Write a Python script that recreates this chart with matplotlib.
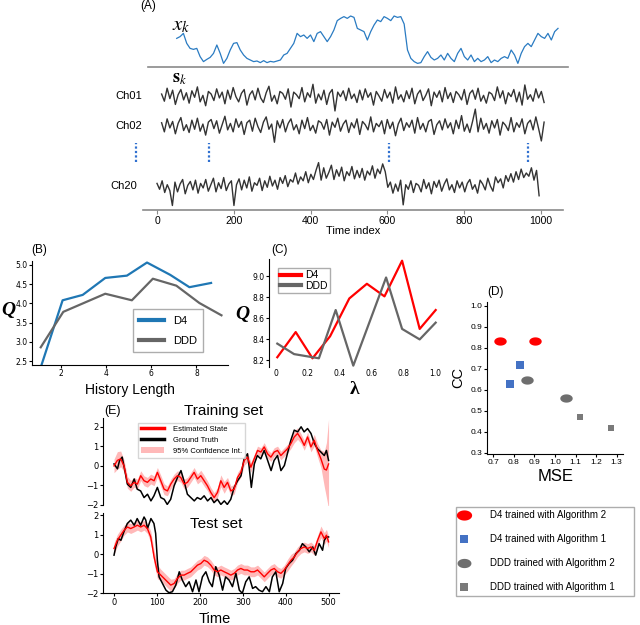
import numpy as np
import matplotlib
matplotlib.use("Agg")
from matplotlib import pyplot as plt
from matplotlib.path import Path
from matplotlib.lines import Line2D
from matplotlib.patches import Patch

plt.rcParams["font.family"] = ["Liberation Sans", "DejaVu Sans"]
plt.rcParams["mathtext.fontset"] = "stix"

# ---- (A) latent state and a few channels ----
xk = [0.13, 0.27, 0.53, -0.27, -0.67, -0.75, -0.67, -1.33, -1.73, -1.55, -1.39, -1.07, -0.4, -1.07, -1.87,
      -1.47, -0.8, -0.27, -0.21, -0.8, -1.2, -1.47, -1.6, -1.73, -1.68, -1.81, -1.65, -1.81, -1.71, -1.76,
      -1.68, -1.6, -1.2, -1.07, -0.67, -0.27, 0.53, 0.27, 0.4, 0.13, 0.4, -0.13, 0.53, 0.67, 0.27,
      -0.13, 0.27, 0.8, 1.55, 1.73, 1.87, 1.73, 1.92, 1.81, 0.93, 0.8, 0.67, 0.0, 0.67, 1.2,
      1.6, 1.47, 1.87, 1.73, 1.55, 1.92, 1.81, 1.87, 1.28, -0.8, -1.47, -1.73, -1.87, -1.81, -1.33,
      -0.93, -1.39, -1.6, -1.47, -1.2, -1.6, -1.07, -1.47, -1.73, -1.07, -0.67, -1.33, -1.6, -1.2, -1.73,
      -1.47, -1.73, -1.6, -1.33, -1.81, -1.6, -1.73, -1.47, -1.33, -1.47, -0.8, -1.2, -1.87, -1.07, -0.53,
      -0.27, -0.53, 0.0, 0.53, 0.27, 0.13, 0.53, 0.0, 0.67, 0.93]

ch01 = [0.3, -0.8, 1.2, -0.4, 0.9, -1.3, 0.2, 1.0, -0.6, 0.5, -1.1, 0.8, -0.2, 1.4, -0.9, 0.1, -1.5, 0.7, 0.3, -0.7,
        1.1, -0.3, 0.6, -1.2, 0.9, -0.5, 1.3, -0.1, -0.9, 0.4, 1.0, -1.4, 0.2, 0.8, -0.6, 1.2, -0.3, -1.0, 0.5, 1.5,
        -0.8, 0.1, -1.2, 0.7, 0.4, -0.5, 1.1, -1.7, 0.6, 0.2, -0.4, 1.3, -0.9, 0.5, -0.2, 1.8, -1.1, 0.3, -0.6, 0.9,
        -1.3, 0.4, 1.0, -2.3, 0.6, -0.1, 0.8, -0.7, 1.2, -0.4, 0.3, -1.0, 0.9, -0.6, 1.1, -0.2, 0.5, -1.4, 0.7, 0.0,
        -0.8, 1.0, -0.3, 0.6, -1.1, 1.4, -0.5, 0.2, -0.9, 0.8, -0.4, 1.2, -1.2, 0.3, 0.9, -0.7, 0.1, 1.1, -1.5, 0.6,
        -0.2, 0.8, -0.9, 1.3, -0.4, 0.5, -1.0, 0.7, 0.2, -0.6, 1.0, -1.3, 0.4, 0.9, -0.5, 1.2, -0.8, 0.1, -1.1, 0.6,
        0.3, -0.7, 1.4, -0.3, 0.8, -1.2, 0.5, -0.1, 1.0, -0.9, 0.6, -1.4, 1.7, -0.5, 0.2, -0.8, 1.1, -0.3, 0.7, -1.0]
ch02 = [0.5, -0.9, 1.1, -0.3, 0.7, -1.2, 0.4, 1.3, -0.7, 0.2, -1.0, 0.9, -0.5, 1.2, -0.8, 0.3, -1.4, 0.6, 1.0, -0.4,
        0.8, -1.1, 0.2, 1.5, -0.6, 0.4, -0.9, 1.1, -0.2, 0.7, -1.3, 0.5, 0.9, -0.8, 1.2, -0.1, -1.0, 0.6, 1.4, -0.5,
        0.3, -2.5, 0.8, -0.3, 1.0, -0.9, 0.4, 1.1, -0.6, 0.2, -1.2, 0.9, -0.4, 1.3, -0.7, 0.1, -1.1, 0.8, 0.5, -0.5,
        1.0, -1.4, 0.6, -0.2, 1.2, -0.8, 0.3, 0.9, -1.0, 0.5, -0.3, 1.1, -1.3, 0.7, 0.2, -0.6, 1.4, -0.9, 0.4, -0.1,
        0.8, -1.2, 1.0, -0.4, 0.6, -1.5, 0.3, 1.2, -0.7, 0.5, -0.2, 0.9, -1.1, 1.3, -0.5, 0.4, -0.9, 0.7, 1.0, -1.3,
        0.2, 0.8, -0.6, 1.1, -0.3, 0.5, -1.2, 0.9, -0.4, 1.6, -0.8, 0.3, -1.0, 0.7, 2.6, -0.9, 1.2, -0.5, 0.4, -1.1,
        0.8, -0.3, 1.0, -1.4, 0.6, 0.1, -0.7, 1.3, -0.9, 0.5, -0.2, 1.1, -1.2, 0.4, 0.9, -0.6, 1.4, -0.4, -2.3, 0.6]
ch20 = [0.4, -0.5, 0.8, -1.0, 0.2, -0.7, -3.0, 0.6, -0.9, 0.3, 1.0, -1.2, 0.1, 0.7, -0.6, 0.9, -1.1, 0.4, -0.3, 1.0,
        -0.8, 0.2, 1.2, -0.9, 0.5, -0.4, 1.3, -0.7, 0.3, 0.8, -3.0, 0.2, 1.1, -0.6, 0.9, -0.3, 1.4, -0.8, 0.5, 0.1,
        1.2, -0.7, 0.8, -0.2, 1.5, 0.0, 0.9, -0.5, 1.3, 0.4, 1.6, -0.1, 1.0, 0.6, 2.0, 0.3, 1.4, 0.8, 2.2, 0.5,
        1.8, 1.0, 2.4, 3.6, 0.9, 2.8, 1.2, 2.1, 3.2, 1.0, 2.5, 1.5, 2.9, 0.8, 2.2, 1.6, 3.0, 1.1, 2.4, 1.3,
        2.7, 0.9, 2.3, 1.7, 3.1, 1.2, 2.6, 1.9, 3.4, 2.2, -0.2, 0.6, -1.1, 0.3, -0.8, 0.9, -2.9, 0.2, -0.5, 0.8,
        -1.0, 0.4, 0.1, -0.9, 1.0, -0.4, 0.5, -1.2, 0.7, -0.2, 0.9, -0.8, 0.3, 1.1, -0.6, 0.2, -1.0, 0.8, -0.3, 0.6,
        -0.9, 0.4, 1.0, -0.5, 0.2, -1.1, 0.9, 0.3, -0.6, 1.2, 0.0, -0.8, 1.4, 0.5, 1.1, -0.3, 1.6, 0.7, 1.9, 0.6,
        2.2, 1.0, 2.6, 1.3, 2.0, 1.5, 2.8, 0.9, 2.4, -1.5]

# ---- (B) history length ----
hist_d4 = [1.14, 2.07, 2.96, 3.96, 4.92, 5.81, 6.84, 7.69, 8.65]
q_hist_d4 = [2.41, 4.08, 4.22, 4.66, 4.72, 5.06, 4.74, 4.42, 4.53]
hist_ddd = [1.10, 2.10, 3.96, 5.14, 6.07, 7.11, 8.13, 9.11]
q_hist_ddd = [2.86, 3.78, 4.25, 4.08, 4.64, 4.46, 4.01, 3.69]

# ---- (C) lambda ----
lam_d4 = [0.01, 0.125, 0.23, 0.34, 0.46, 0.57, 0.68, 0.79, 0.90, 1.0]
q_lam_d4 = [8.23, 8.47, 8.22, 8.43, 8.79, 8.93, 8.81, 9.15, 8.50, 8.68]
lam_ddd = [0.01, 0.115, 0.27, 0.375, 0.485, 0.69, 0.79, 0.90, 1.0]
q_lam_ddd = [8.36, 8.26, 8.22, 8.68, 8.15, 8.99, 8.50, 8.40, 8.56]

# ---- (D) MSE vs CC ----
mse_d4_alg2 = [0.732, 0.903]
cc_d4_alg2 = [0.835, 0.835]
mse_d4_alg1 = [0.830, 0.781]
cc_d4_alg1 = [0.72, 0.63]
mse_ddd_alg2 = [0.862, 1.053]
cc_ddd_alg2 = [0.649, 0.56]
mse_ddd_alg1 = [1.12, 1.27]
cc_ddd_alg1 = [0.47, 0.416]
d_labels = ["D4 trained with Algorithm 2", "D4 trained with Algorithm 1",
            "DDD trained with Algorithm 2", "DDD trained with Algorithm 1"]

# ---- (E) decoding ----
train_truth_t = [0, 8, 13, 19, 26, 31, 39, 47, 54, 62, 70, 78, 86, 93, 101, 109, 117, 124, 132, 140,
                 148, 156, 163, 171, 179, 187, 194, 202, 210, 218, 226, 233, 241, 249, 257, 264, 272, 280, 288, 296,
                 303, 311, 315, 320, 327, 334, 342, 350, 358, 366, 373, 381, 389, 397, 404, 412, 420, 428, 436, 443,
                 451, 459, 467, 474, 482, 490, 495, 500]
train_truth = [0.1, -0.15, 0.28, 0.45, -0.33, -0.93, -1.1, -0.67, -1.19, -1.28, -1.62, -1.45, -1.79, -1.53, -1.1, -1.62,
               -1.71, -1.97, -1.71, -1.02, -0.59, -0.24, -0.76, -1.45, -1.62, -1.79, -1.62, -1.71, -1.53, -1.79, -1.62,
               -1.88, -1.71, -1.97, -1.79, -1.97, -1.71, -1.1, -0.76, -0.5, 0.36, 0.62, -0.07, -1.1, 0.1, 0.53, 0.36,
               0.79, 0.28, -0.24, 0.28, 0.53, -0.24, 0.02, 0.62, 1.31, 1.83, 1.74, 2.0, 1.74, 1.91, 1.66, 1.14, 0.88,
               0.71, 0.53, 0.79, 0.28]
train_est = [0.0, 0.28, 0.36, 0.0, -0.84, -1.02, -0.84, -0.93, -0.5, -0.76, -0.84, -0.67, -0.76, -0.33, -0.76, -1.19,
             -1.28, -0.93, -0.67, -0.5, -0.59, -0.93, -0.84, -0.59, -0.33, -0.67, -0.5, -0.76, -1.02, -1.36, -1.62,
             -1.36, -0.76, -1.1, -0.84, -1.28, -1.19, -0.59, -0.33, 0.28, 0.45, -0.07, 0.36, 0.79, 0.71, 0.97, 0.62,
             0.45, 0.71, 0.79, 0.53, 0.71, 0.88, 1.14, 1.48, 1.66, 1.4, 1.05, 1.48, 0.97, 1.31, 0.79, 0.36, -0.16,
             -0.21, 0.1]
train_ci = [0.35, 0.45, 0.4, 0.3, 0.3, 0.28, 0.25, 0.25, 0.25, 0.25, 0.25, 0.25, 0.25, 0.25, 0.28, 0.28, 0.25,
            0.25, 0.25, 0.25, 0.25, 0.25, 0.25, 0.25, 0.25, 0.25, 0.28, 0.28, 0.25, 0.25, 0.25, 0.25, 0.3, 0.3,
            0.25, 0.25, 0.25, 0.25, 0.25, 0.25, 0.25, 0.25, 0.22, 0.22, 0.22, 0.22, 0.22, 0.22, 0.22, 0.22, 0.22,
            0.22, 0.22, 0.25, 0.3, 0.3, 0.25, 0.25, 0.25, 0.25, 0.3, 0.35, 0.45, 0.9, 1.4, 2.3]
test_truth_t = [0, 4, 10, 16, 23, 31, 39, 47, 54, 62, 70, 74, 78, 86, 93, 97, 101, 105, 113, 121,
                128, 136, 144, 152, 159, 167, 175, 183, 191, 198, 206, 214, 222, 229, 237, 245, 253, 260, 268, 276,
                284, 292, 299, 307, 315, 323, 330, 338, 346, 354, 362, 369, 377, 385, 393, 400, 408, 416, 424, 432,
                439, 447, 455, 463, 470, 478, 486, 490, 495, 500]
test_truth = [-0.05, 0.37, 0.8, 0.71, 1.14, 1.57, 1.74, 1.48, 1.82, 1.48, 1.9, 1.74, 1.31, 1.82, 1.57, 1.06, -0.31,
              -1.16, -1.5, -1.84, -1.97, -1.92, -1.58, -0.9, -1.32, -1.66, -1.41, -1.92, -1.32, -1.92, -1.16, -0.9,
              -1.41, -1.66, -0.64, -1.07, -1.84, -1.16, -1.32, -1.66, -0.98, -1.84, -2.0, -1.41, -1.16, -1.75, -1.66,
              -1.84, -1.92, -1.66, -1.92, -1.16, -0.9, -1.92, -1.5, -0.73, -0.48, -0.31, 0.03, 0.2, 0.54, 0.37, 0.12,
              0.37, -0.05, 0.54, 0.2, 0.71, 0.88, 0.88]
test_est = [0.29, 0.71, 0.97, 1.22, 1.39, 1.31, 1.39, 1.48, 1.39, 1.48, 1.31, 0.88, -0.14, -0.9, -1.07, -1.24, -1.41,
            -1.58, -1.5, -1.24, -1.07, -1.07, -0.98, -0.9, -0.73, -0.56, -0.48, -0.31, -0.39, -0.56, -0.81, -0.9,
            -0.81, -0.9, -0.98, -1.07, -0.98, -0.81, -0.73, -0.81, -0.81, -0.9, -0.9, -0.81, -0.98, -1.16, -0.98,
            -0.81, -0.73, -0.9, -0.98, -0.81, -0.56, -0.31, -0.14, 0.12, 0.29, 0.37, 0.29, 0.37, 0.2, 0.71, 1.14,
            0.8, 0.97, 0.63]
test_ci = [0.3, 0.3, 0.3, 0.25, 0.25, 0.25, 0.25, 0.25, 0.25, 0.25, 0.25, 0.3, 0.35, 0.35, 0.3, 0.3, 0.3, 0.3,
           0.25, 0.25, 0.25, 0.25, 0.25, 0.25, 0.25, 0.25, 0.25, 0.25, 0.25, 0.25, 0.25, 0.25, 0.25, 0.25, 0.25,
           0.25, 0.25, 0.25, 0.25, 0.25, 0.25, 0.25, 0.25, 0.25, 0.25, 0.25, 0.25, 0.25, 0.25, 0.25, 0.25, 0.25,
           0.3, 0.3, 0.25, 0.25, 0.25, 0.25, 0.25, 0.25, 0.25, 0.25, 0.3, 0.3, 0.3, 0.3]
est_t = np.append(np.linspace(0, 490, 64), [495, 500])

W, H = 640, 625
fig = plt.figure(figsize=(W / 100, H / 100), dpi=100)


def px_axes(x0, y0, x1, y1):
    # axes placed in pixel coords of the 640x625 canvas (y down)
    return fig.add_axes([x0 / W, 1 - y1 / H, (x1 - x0) / W, (y1 - y0) / H])


def ftext(x, y, s, **kw):
    fig.text(x / W, 1 - y / H, s, **kw)


def only_spines(ax, keep, color="black", lw=0.8):
    for name, sp in ax.spines.items():
        sp.set_visible(name in keep)
        sp.set_color(color)
        sp.set_linewidth(lw)


SERIF_BI = dict(family="Liberation Serif", fontweight="bold", fontstyle="italic")

# ---------------- (A) ----------------
ax_x = px_axes(148.3, 12, 568.3, 67)
ax_x.plot(np.linspace(0, 1000, len(xk)), xk, color="#2a7bc2", lw=0.9)
ax_x.set_xlim(-74.5, 1027)
ax_x.set_ylim(-2.16, 2.24)
ax_x.set_xticks([])
ax_x.set_yticks([])
only_spines(ax_x, ["bottom"], color="#8a8a8a", lw=1.2)

ax_a = px_axes(143.3, 70, 563.3, 210)
trace = dict(color="#333333", lw=1.0)
ax_a.plot(np.linspace(12, 1008, len(ch01)), -96 + 6.5 * np.array(ch01), **trace)
ax_a.plot(np.linspace(12, 1008, len(ch02)), -126 + 6.5 * np.array(ch02), **trace)
ax_a.plot(np.linspace(0, 995, len(ch20)), -186 + 6.5 * np.array(ch20), **trace)
dots = ax_a.vlines([-55, 135, 604, 966], -162, -143, colors="#3070d0", linestyles=(0, (1, 1)), lw=1.6)
dots.set_clip_on(False)
ax_a.set_xlim(-35.7, 1058)
ax_a.set_ylim(-210, -70)
ax_a.set_yticks([])
ax_a.set_xticks(range(0, 1001, 200))
ax_a.tick_params(axis="x", labelsize=7.5, length=3, color="#8a8a8a", pad=1)
ax_a.set_xlabel("Time index", fontsize=8, labelpad=0)
only_spines(ax_a, ["bottom"], color="#8a8a8a", lw=1.2)

ftext(148, 6, "(A)", fontsize=8.5, ha="center", va="center")
ftext(181, 26, "$x_k$", fontsize=15, ha="center", va="center")
ftext(180, 78, r"$\mathbf{s}_k$", fontsize=13, ha="center", va="center")
for name, xr, yc in [("Ch01", 142, 96), ("Ch02", 142, 126), ("Ch20", 137, 186)]:
    ftext(xr, yc, name, fontsize=8, ha="right", va="center")

# ---------------- (B) ----------------
ax_b = px_axes(31.7, 261, 228, 365)
ax_b.plot(hist_d4, q_hist_d4, color="#1f77b4", lw=1.6, label="D4")
ax_b.plot(hist_ddd, q_hist_ddd, color="#666666", lw=1.6, label="DDD")
ax_b.set_xlim(0.7, 9.4)
ax_b.set_ylim(2.4, 5.1)
ax_b.set_xticks([2, 4, 6, 8])
ax_b.set_yticks([2.5, 3.0, 3.5, 4.0, 4.5, 5.0])
ax_b.set_yticklabels(["2.5", "3.0", "3.5", "4.0", "4.5", "5.0"])
ax_b.tick_params(labelsize=5.5, length=2, pad=1.2, labelfontfamily="DejaVu Sans")
only_spines(ax_b, ["left", "bottom"])
ax_b.set_xlabel("History Length", fontsize=10, labelpad=3)
leg = ax_b.legend(loc="lower right", bbox_to_anchor=(0.903, 0.067), fontsize=8, handlelength=2.2,
                  borderpad=0.6, labelspacing=0.9, fancybox=False, edgecolor="#999999")
for ln in leg.get_lines():
    ln.set_linewidth(3)
ftext(8, 311, "Q", fontsize=14, ha="center", va="center", **SERIF_BI)
ftext(39, 250, "(B)", fontsize=8.5, ha="center", va="center")

# ---------------- (C) ----------------
ax_c = px_axes(269.3, 258.6, 440, 366.7)
ax_c.plot(lam_d4, q_lam_d4, color="#ff0000", lw=1.6, label="D4")
ax_c.plot(lam_ddd, q_lam_ddd, color="#666666", lw=1.6, label="DDD")
ax_c.set_xlim(-0.04, 1.027)
ax_c.set_ylim(8.14, 9.17)
ax_c.set_xticks([0, 0.2, 0.4, 0.6, 0.8, 1.0])
ax_c.set_xticklabels(["0", "0.2", "0.4", "0.6", "0.8", "1.0"])
ax_c.set_yticks([8.2, 8.4, 8.6, 8.8, 9.0])
ax_c.set_yticklabels(["8.2", "8.4", "8.6", "8.8", "9.0"])
ax_c.tick_params(labelsize=5.5, length=2, pad=1.5, labelfontfamily="DejaVu Sans")
only_spines(ax_c, ["left"])
ax_c.tick_params(axis="x", length=0)
leg = ax_c.legend(loc="upper left", bbox_to_anchor=(0.02, 0.96), fontsize=7.5, handlelength=2.0,
                  borderpad=0.2, labelspacing=0.05, handletextpad=0.4, fancybox=False, edgecolor="#999999")
for ln in leg.get_lines():
    ln.set_linewidth(3)
ftext(242, 315, "Q", fontsize=14, ha="center", va="center", **SERIF_BI)
ftext(355, 389, "λ", fontsize=14, ha="center", va="center", family="Liberation Serif", fontweight="bold")
ftext(280, 250, "(C)", fontsize=8.5, ha="center", va="center")

# ---------------- (D) ----------------
theta = np.linspace(0, 2 * np.pi, 40)
ellipse = Path(np.column_stack([1.5 * np.cos(theta), np.sin(theta)]), closed=True)

ax_d = px_axes(487.3, 301.7, 623.3, 454)
ax_d.scatter(mse_d4_alg2, cc_d4_alg2, marker=ellipse, s=80, color="#ff0000", lw=0)
ax_d.scatter(mse_d4_alg1, cc_d4_alg1, marker="s", s=30, color="#4472c4", lw=0)
ax_d.scatter(mse_ddd_alg2, cc_ddd_alg2, marker=ellipse, s=80, color="#6e6e6e", lw=0)
ax_d.scatter(mse_ddd_alg1, cc_ddd_alg1, marker="s", s=24, color="#7a7a7a", lw=0)
ax_d.set_xlim(0.671, 1.332)
ax_d.set_ylim(0.294, 1.02)
ax_d.set_xticks([0.7, 0.8, 0.9, 1.0, 1.1, 1.2, 1.3])
ax_d.set_yticks([0.3, 0.4, 0.5, 0.6, 0.7, 0.8, 0.9, 1.0])
ax_d.tick_params(labelsize=6, length=2, pad=1.5)
only_spines(ax_d, ["left", "bottom"])
ax_d.set_xlabel("MSE", fontsize=12, labelpad=2)
ax_d.set_ylabel("CC", fontsize=10.5, labelpad=4)
ftext(496, 292, "(D)", fontsize=8.5, ha="center", va="center")

d_handles = [
    Line2D([], [], ls="", marker=ellipse, ms=11, color="#ff0000", mew=0),
    Line2D([], [], ls="", marker="s", ms=6, color="#4472c4", mew=0),
    Line2D([], [], ls="", marker=ellipse, ms=10, color="#6e6e6e", mew=0),
    Line2D([], [], ls="", marker="s", ms=6, color="#7a7a7a", mew=0),
]
fig.legend(d_handles, d_labels, loc="upper left",
           bbox_to_anchor=(450.7 / W, 1 - 590 / H, 188.6 / W, 88.3 / H),
           mode="expand", fontsize=7, labelspacing=1.45, borderpad=0.35, handletextpad=2.2,
           fancybox=False, edgecolor="#999999", handlelength=1.0)

# ---------------- (E) ----------------
ax_e1 = px_axes(103.3, 418, 339.3, 505)
ax_e1.fill_between(est_t, np.array(train_est) - train_ci, np.array(train_est) + train_ci,
                   color="#ff8080", alpha=0.55, lw=0)
ax_e1.plot(train_truth_t, train_truth, color="black", lw=1.1)
ax_e1.plot(est_t, train_est, color="#ff0000", lw=1.0)
ax_e1.set_xlim(-25, 525)
ax_e1.set_ylim(-2.0, 2.45)
ax_e1.set_xticks([])
ax_e1.set_yticks([-2, -1, 0, 1, 2])
ax_e1.tick_params(labelsize=6, length=2, pad=1.5, labelfontfamily="DejaVu Sans")
only_spines(ax_e1, ["left"])
e_handles = [Line2D([], [], color="#ff0000", lw=2.5), Line2D([], [], color="black", lw=2.5),
             Patch(facecolor="#ff8080", alpha=0.55, lw=0)]
ax_e1.legend(e_handles, ["Estimated State", "Ground Truth", "95% Confidence Int."], loc="upper left",
             bbox_to_anchor=(0.13, 0.99), fontsize=5.5, handlelength=3.0, handletextpad=1.2,
             labelspacing=0.45, fancybox=False, edgecolor="#cccccc")

ax_e2 = px_axes(103.3, 513.3, 339.3, 593.3)
ax_e2.fill_between(est_t, np.array(test_est) - test_ci, np.array(test_est) + test_ci,
                   color="#ff8080", alpha=0.55, lw=0)
ax_e2.plot(test_truth_t, test_truth, color="black", lw=1.1)
ax_e2.plot(est_t, test_est, color="#ff0000", lw=1.0)
ax_e2.set_xlim(-25, 525)
ax_e2.set_ylim(-2.0, 2.09)
ax_e2.set_xticks(range(0, 501, 100))
ax_e2.set_yticks([-2, -1, 0, 1, 2])
ax_e2.tick_params(labelsize=6, length=2, pad=1.5, labelfontfamily="DejaVu Sans")
only_spines(ax_e2, ["left", "bottom"])

ftext(112.7, 411, "(E)", fontsize=9, ha="center", va="center")
ftext(224, 411, "Training set", fontsize=11, ha="center", va="center")
ftext(216, 524, "Test set", fontsize=11, ha="center", va="center")
ftext(215, 619, "Time", fontsize=10.5, ha="center", va="center")

fig.savefig("out.png", dpi=100, facecolor="white")
